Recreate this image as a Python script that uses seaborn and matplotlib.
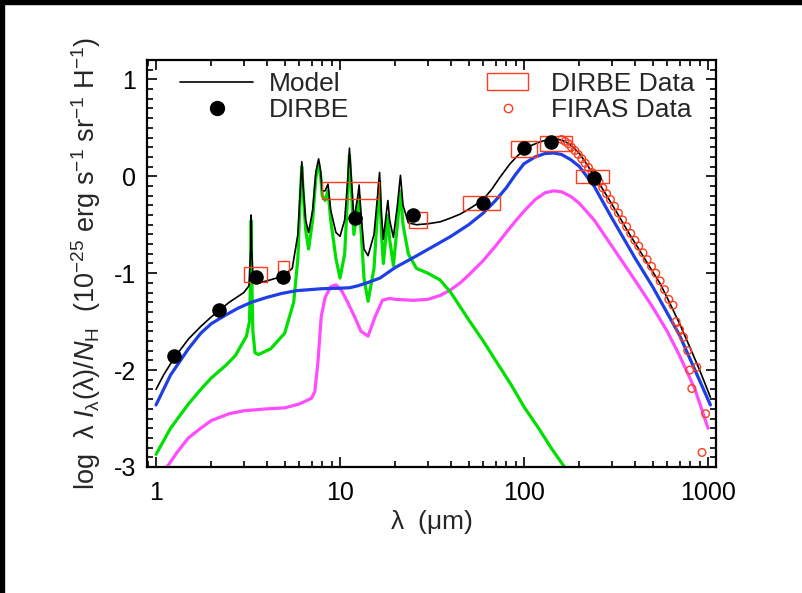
import numpy as np
import pandas as pd
import matplotlib
matplotlib.use("Agg")
import matplotlib.pyplot as plt
import seaborn as sns
from matplotlib.patches import Rectangle
from matplotlib.lines import Line2D
from matplotlib.ticker import MultipleLocator, LogLocator, NullFormatter, FixedLocator, FixedFormatter

# ---------------- data ----------------
model_lam = [1.0, 1.1, 1.25, 1.5, 1.75, 2.0, 2.5, 3.0, 3.2, 3.27, 3.29, 3.31, 3.37, 3.6, 4.0, 4.9, 5.5, 5.9,
             6.1, 6.2, 6.3, 6.5, 6.75, 7.1, 7.4, 7.65, 7.85, 8.0, 8.3, 8.6, 8.9, 9.5, 10.0, 10.6, 11.0, 11.25,
             11.5, 11.9, 12.5, 12.7, 12.9, 13.5, 14.2, 15.3, 16.0, 16.4, 16.8, 17.2, 17.8, 18.2, 18.6, 19.5,
             20.5, 21.3, 22.0, 23.5, 26, 30, 35, 40, 45, 50, 55, 60, 67, 74, 84, 92, 100, 110, 122, 133, 143,
             155, 167, 183, 201, 220, 243, 265, 292, 330, 375, 420, 480, 550, 620, 700, 795, 900, 1030]
model_y = [-2.20, -2.05, -1.88, -1.68, -1.55, -1.45, -1.30, -1.20, -1.13, -0.75, -0.40, -0.75, -1.08, -1.10,
           -1.08, -1.03, -0.95, -0.60, -0.10, 0.15, -0.10, -0.45, -0.58, -0.35, 0.05, 0.18, 0.05, -0.15,
           -0.15, -0.08, -0.35, -0.58, -0.62, -0.45, -0.05, 0.29, 0.0, -0.45, -0.20, -0.09, -0.30, -0.75,
           -0.82, -0.60, -0.20, 0.04, -0.40, -0.65, -0.40, -0.25, -0.45, -0.63, -0.30, 0.01, -0.30, -0.48,
           -0.50, -0.49, -0.47, -0.43, -0.39, -0.34, -0.29, -0.24, -0.13, -0.01, 0.13, 0.21, 0.27, 0.32,
           0.355, 0.375, 0.385, 0.38, 0.36, 0.31, 0.23, 0.12, -0.01, -0.12, -0.25, -0.42, -0.60, -0.75,
           -0.93, -1.11, -1.31, -1.52, -1.76, -2.00, -2.28]

blue_lam = [1.0, 1.2, 1.5, 1.75, 2.0, 2.4, 2.8, 3.3, 4.0, 4.8, 5.8, 8.0, 10.0, 11.3, 12.5, 14.0, 16.5, 20, 25,
            31, 40, 50, 60, 70, 80, 90, 100, 115, 130, 145, 160, 180, 200, 240, 300, 400, 500, 700, 1030]
blue_y = [-2.36, -2.05, -1.78, -1.62, -1.52, -1.43, -1.36, -1.30, -1.25, -1.21, -1.18, -1.16, -1.155, -1.15,
          -1.13, -1.10, -1.05, -0.94, -0.84, -0.74, -0.62, -0.50, -0.38, -0.25, -0.12, 0.02, 0.13, 0.20,
          0.235, 0.24, 0.225, 0.17, 0.10, -0.10, -0.43, -0.84, -1.14, -1.64, -2.36]

green_lam = [1.0, 1.2, 1.5, 1.75, 2.0, 2.4, 2.7, 3.1, 3.22, 3.27, 3.29, 3.31, 3.36, 3.45, 3.6, 4.2, 5.0, 5.6,
             5.9, 6.1, 6.2, 6.3, 6.5, 6.75, 7.1, 7.4, 7.65, 7.85, 8.0, 8.3, 8.6, 8.9, 9.5, 10.0, 10.6, 11.0,
             11.25, 11.5, 11.9, 12.5, 12.7, 12.9, 13.5, 14.2, 15.3, 16.0, 16.4, 16.8, 17.2, 17.8, 18.2, 18.6,
             19.5, 20.5, 21.3, 22.0, 23.5, 26, 30, 35, 40, 50, 60, 70, 85, 100, 120, 140, 173]
green_y = [-2.87, -2.6, -2.35, -2.2, -2.08, -1.95, -1.85, -1.65, -1.5, -1.0, -0.46, -1.0, -1.6, -1.82, -1.84,
           -1.78, -1.62, -1.3, -0.85, -0.15, 0.10, -0.15, -0.55, -0.75, -0.45, 0.0, 0.13, 0.0, -0.2, -0.25,
           -0.15, -0.45, -0.85, -1.05, -0.8, -0.2, 0.22, -0.1, -0.6, -0.3, -0.2, -0.45, -1.05, -1.29, -0.95,
           -0.35, -0.05, -0.6, -0.9, -0.6, -0.4, -0.65, -0.92, -0.5, -0.15, -0.5, -0.8, -0.95, -1.0, -1.07,
           -1.2, -1.48, -1.7, -1.9, -2.15, -2.38, -2.6, -2.8, -3.05]

mag_lam = [1.12, 1.3, 1.5, 1.75, 2.0, 2.5, 3.0, 4.0, 5.0, 6.0, 6.5, 7.0, 7.3, 7.6, 7.9, 8.3, 8.9, 9.5, 10.2,
           11.0, 12.0, 13.0, 14.2, 15.5, 17.0, 18.5, 20, 25, 30, 35, 40, 45, 50, 60, 70, 80, 90, 100, 115, 130,
           145, 160, 180, 200, 240, 300, 400, 500, 600, 700, 850, 1000]
mag_y = [-3.03, -2.85, -2.7, -2.6, -2.52, -2.45, -2.42, -2.40, -2.39, -2.35, -2.32, -2.29, -2.22, -1.9, -1.45,
         -1.25, -1.14, -1.12, -1.18, -1.3, -1.45, -1.6, -1.65, -1.45, -1.28, -1.26, -1.27, -1.28, -1.27,
         -1.23, -1.17, -1.10, -1.02, -0.87, -0.72, -0.58, -0.46, -0.36, -0.24, -0.17, -0.15, -0.16, -0.21,
         -0.28, -0.45, -0.72, -1.07, -1.35, -1.6, -1.85, -2.2, -2.6]

dirbe_lam = [1.25, 2.2, 3.5, 4.9, 12.0, 25.0, 60.0, 100.0, 140.0, 240.0]
dirbe_y = [-1.85, -1.375, -1.04, -1.04, -0.43, -0.40, -0.28, 0.29, 0.355, -0.02]

box_lam_lo = [3.0, 4.6, 8.0, 23.7, 46.5, 85.0, 122.0, 191.0]
box_lam_hi = [4.0, 5.3, 16.3, 29.7, 74.3, 117.6, 182.0, 289.0]
box_y_lo = [-1.09, -1.00, -0.23, -0.53, -0.35, 0.20, 0.26, -0.07]
box_y_hi = [-0.94, -0.875, -0.06, -0.365, -0.20, 0.365, 0.42, 0.07]

firas_lam = [160, 167, 174, 181, 189, 197, 206, 215, 224, 234, 245, 256, 268, 281, 295, 310, 326, 343, 361,
             380, 400, 420, 443, 467, 493, 520, 549, 580, 612, 645, 670, 700, 735, 775, 795, 816, 869, 927, 970]
firas_y = [0.38, 0.36, 0.335, 0.30, 0.265, 0.225, 0.18, 0.135, 0.09, 0.04, -0.01, -0.06, -0.12, -0.18, -0.24,
           -0.31, -0.38, -0.45, -0.52, -0.59, -0.66, -0.72, -0.79, -0.86, -0.93, -1.00, -1.08, -1.17, -1.27,
           -1.33, -1.50, -1.58, -1.66, -1.80, -2.00, -2.19, -1.97, -2.85, -2.45]

xtick_vals = [1, 10, 100, 1000]
xtick_labels = ["1", "10", "100", "1000"]
ytick_vals = [-3, -2, -1, 0, 1]
ytick_labels = ["-3", "-2", "-1", "0", "1"]

# ---------------- style ----------------
sns.set_theme(style="white")
plt.rcParams["font.family"] = ["Liberation Sans", "DejaVu Sans"]
plt.rcParams["mathtext.fontset"] = "custom"
plt.rcParams["mathtext.rm"] = "Liberation Sans"
plt.rcParams["mathtext.it"] = "Liberation Sans:italic"
plt.rcParams["mathtext.sf"] = "Liberation Sans"

fig = plt.figure(figsize=(8.02, 5.93), dpi=100)
ax = fig.add_axes([0.1837, 0.2125, 0.7091, 0.6863])

c_blue = "#1f3fe6"
c_green = "#00e000"
c_mag = "#ff4cff"
c_red = "#ff3c1e"

ax.set_xscale("log")

sns.lineplot(x=mag_lam, y=mag_y, ax=ax, color=c_mag, lw=2.3, sort=False, estimator=None)
sns.lineplot(x=green_lam, y=green_y, ax=ax, color=c_green, lw=2.3, sort=False, estimator=None)
sns.lineplot(x=blue_lam, y=blue_y, ax=ax, color=c_blue, lw=2.3, sort=False, estimator=None)
sns.lineplot(x=model_lam, y=model_y, ax=ax, color="black", lw=1.2, sort=False, estimator=None)

for lo, hi, ylo, yhi in zip(box_lam_lo, box_lam_hi, box_y_lo, box_y_hi):
    ax.add_patch(Rectangle((lo, ylo), hi - lo, yhi - ylo, fill=False, edgecolor=c_red, lw=1.0, zorder=3))

sns.scatterplot(x=firas_lam, y=firas_y, ax=ax, marker="o", s=30, facecolor="none", edgecolor=c_red,
                linewidth=1.0, zorder=4)
sns.scatterplot(x=dirbe_lam, y=dirbe_y, ax=ax, marker="o", s=110, color="black", edgecolor="black",
                linewidth=0, zorder=5)

ax.set_xlim(0.897, 1105)
ax.set_ylim(-3, 1.2)

ax.xaxis.set_major_locator(FixedLocator(xtick_vals))
ax.xaxis.set_major_formatter(FixedFormatter(xtick_labels))
ax.xaxis.set_minor_locator(LogLocator(base=10, subs=np.arange(2, 10)))
ax.xaxis.set_minor_formatter(NullFormatter())
ax.yaxis.set_major_locator(FixedLocator(ytick_vals))
ax.yaxis.set_major_formatter(FixedFormatter(ytick_labels))
ax.yaxis.set_minor_locator(MultipleLocator(0.1))

ax.tick_params(which="both", direction="in", top=True, right=True, bottom=True, left=True,
               width=1.2, colors="black", labelsize=18)
ax.tick_params(which="major", length=7)
ax.tick_params(which="minor", length=4)
ax.tick_params(axis="x", pad=10)
ax.tick_params(axis="y", pad=8)
for sp in ax.spines.values():
    sp.set_linewidth(1.6)
    sp.set_color("black")

ax.set_xlabel(r"$\mathrm{\lambda}$  ($\mathrm{\mu}$m)", fontsize=19, labelpad=2)
ax.set_ylabel(r"log  $\mathrm{\lambda}$ $I_{\mathrm{\lambda}}(\mathrm{\lambda})/N_{\mathrm{H}}$  "
              r"(10$^{-25}$ erg s$^{-1}$ sr$^{-1}$ H$^{-1}$)", fontsize=19.5, labelpad=8)

h_model = Line2D([], [], color="black", lw=1.2)
h_dirbe = Line2D([], [], color="black", marker="o", ls="none", markersize=10)
leg1 = ax.legend([h_model, h_dirbe], ["Model", "DIRBE"], loc="upper left", bbox_to_anchor=(0.03, 1.01),
                 frameon=False, fontsize=19, handlelength=2.76, handletextpad=0.6, labelspacing=0.1,
                 borderaxespad=0.2)
ax.add_artist(leg1)
h_box = Rectangle((0, 0), 1, 1, fill=False, edgecolor=c_red, lw=1.0)
h_firas = Line2D([], [], color=c_red, marker="o", ls="none", markersize=6, markerfacecolor="none",
                 markeredgewidth=1.0)
ax.legend([h_box, h_firas], ["DIRBE Data", "FIRAS Data"], loc="upper left", bbox_to_anchor=(0.57, 1.01),
          frameon=False, fontsize=19, handlelength=1.55, handleheight=0.65, handletextpad=0.87,
          labelspacing=0.1, borderaxespad=0.2)

# black frame strips of the reference image
fig.patches.append(Rectangle((0, 0.993), 1, 0.007, transform=fig.transFigure, color="black", zorder=10))
fig.patches.append(Rectangle((0, 0), 0.005, 1, transform=fig.transFigure, color="black", zorder=10))

fig.savefig("out.png", dpi=100, facecolor="white")
